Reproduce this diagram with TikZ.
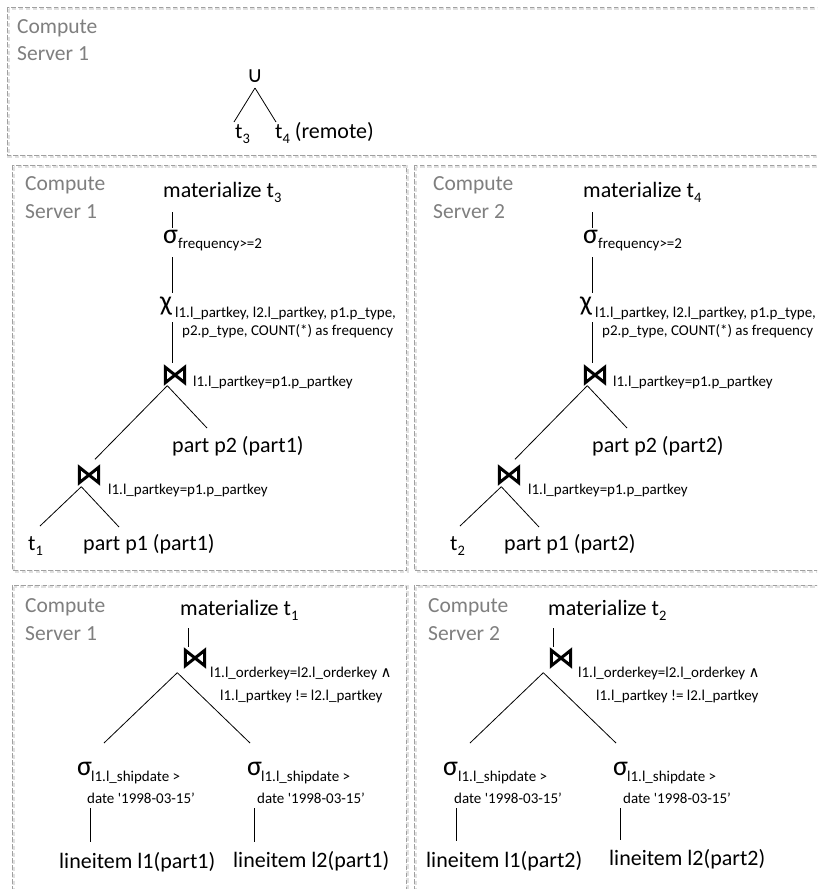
\documentclass[tikz,border=0pt]{standalone}
\usepackage{fontspec}
\setmainfont{Carlito}
\newfontfamily\dejavu{DejaVu Sans}
\newcommand\fs[1]{\fontsize{#1}{#1}\selectfont}
\newcommand\sbs[1]{\raisebox{-0.25em}{\fs{14.5}#1}}
\definecolor{servergray}{HTML}{7F7F7F}
\definecolor{framegray}{HTML}{A0A0A0}
\tikzset{
  main/.style={font=\fs{22}, inner sep=0pt, anchor=base west},
  small/.style={font=\fs{15}, inner sep=0pt, anchor=base west},
  greek/.style={font=\fs{28}, inner sep=0pt, anchor=base west},
  server/.style={font=\fs{21.5}, text=servergray, inner sep=0pt, anchor=base west},
  conn/.style={draw=black, line width=0.8pt},
  bowtie/.style={minimum width=19pt, minimum height=15pt, inner sep=0pt,
    append after command={\pgfextra{\draw[line width=3pt, line join=miter]
      (\tikzlastnode.north west) -- (\tikzlastnode.south east) -- (\tikzlastnode.north east) -- (\tikzlastnode.south west) -- cycle;}}},
  frame/.style={draw=framegray, dash pattern=on 4.5pt off 2.5pt, line width=1pt},
  frameshadow/.style={draw=black!12, dash pattern=on 4.5pt off 2.5pt, line width=2.2pt},
}
\begin{document}
\begin{tikzpicture}[x=1pt, y=-1pt]
\useasboundingbox (0,0) rectangle (817,889);
\clip (0,0) rectangle (817,889);
\fill[white] (0,0) rectangle (817,889);

% ---------- top box ----------
\draw[frameshadow] (8.5,8.5) rectangle (841,156.5);
\draw[frame] (7,7) rectangle (840,155);
\node[server] (cs0a) at (17,33) {Compute};
\node[server] (cs0b) at (17,60) {Server 1};
\node[font=\dejavu\fs{22}, inner sep=0pt, anchor=base] (u0) at (255,82) {∪};
\node[main] (t3) at (235,138) {t\sbs{3}};
\node[main] (t4) at (275,138) {t\sbs{4} (remote)};
\draw[conn] ([shift={(0,6)}]u0.base) -- ([shift={(-1,-16)}]t3.base west);
\draw[conn] ([shift={(0,6)}]u0.base) -- ([shift={(1,-16)}]t4.base west);

% ---------- box A (middle left) ----------
\draw[frameshadow] (13.5,166.5) rectangle (407.5,571.5);
\draw[frame] (12,165) rectangle (406,570);
\node[server] (csAa) at (25,190) {Compute};
\node[server] (csAb) at (25,218) {Server 1};
\node[main] (mA) at (163,197) {materialize t\sbs{3}};
\node[greek] (sA) at (163,243) {σ};
\node[small] (sAs) at (178,248) {frequency>=2};
\node[greek] (xA) at (160,310) {χ};
\node[small] (xAs1) at (175,317) {l1.l\_partkey, l2.l\_partkey, p1.p\_type,};
\node[small] (xAs2) at (182,335) {p2.p\_type, COUNT(*) as frequency};
\node[bowtie] (jA) at (175,375) {};
\node[small] (jAs) at (193,386) {l1.l\_partkey=p1.p\_partkey};
\node[main] (pA2) at (172,452) {part p2 (part1)};
\node[bowtie] (kA) at (89,475) {};
\node[small] (kAs) at (108,494) {l1.l\_partkey=p1.p\_partkey};
\node[main] (tA) at (28,550) {t\sbs{1}};
\node[main] (pA1) at (83,550) {part p1 (part1)};
\draw[conn] ([shift={(9,15)}]mA.base west) -- ([shift={(9,-15)}]sA.base west);
\draw[conn] ([shift={(9,14)}]sA.base west) -- ([shift={(12,-17)}]xA.base west);
\draw[conn] ([shift={(12,12)}]xA.base west) -- ([shift={(-3,-4)}]jA.north);
\draw[conn] ([shift={(2,3)}]jA.south west) -- ([shift={(6,-8)}]kA.north);
\draw[conn] ([shift={(2,3)}]jA.south west) -- ([shift={(35,-24)}]pA2.base west);
\draw[conn] ([shift={(2,4)}]kA.south west) -- ([shift={(12,-24)}]tA.base west);
\draw[conn] ([shift={(2,4)}]kA.south west) -- ([shift={(36,-23)}]pA1.base west);

% ---------- box B (middle right) ----------
\begin{scope}[shift={(420,0)}]
\draw[frameshadow] (-4.5,166.5) rectangle (421,571.5);
\draw[frame] (-6,165) rectangle (420,570);
\node[server] (csBa) at (13,190) {Compute};
\node[server] (csBb) at (13,218) {Server 2};
\node[main] (mB) at (163,197) {materialize t\sbs{4}};
\node[greek] (sB) at (163,243) {σ};
\node[small] (sBs) at (178,248) {frequency>=2};
\node[greek] (xB) at (160,310) {χ};
\node[small] (xBs1) at (175,317) {l1.l\_partkey, l2.l\_partkey, p1.p\_type,};
\node[small] (xBs2) at (182,335) {p2.p\_type, COUNT(*) as frequency};
\node[bowtie] (jB) at (175,375) {};
\node[small] (jBs) at (193,386) {l1.l\_partkey=p1.p\_partkey};
\node[main] (pB2) at (172,452) {part p2 (part2)};
\node[bowtie] (kB) at (89,475) {};
\node[small] (kBs) at (108,494) {l1.l\_partkey=p1.p\_partkey};
\node[main] (tB) at (30,550) {t\sbs{2}};
\node[main] (pB1) at (84,550) {part p1 (part2)};
\draw[conn] ([shift={(9,15)}]mB.base west) -- ([shift={(9,-15)}]sB.base west);
\draw[conn] ([shift={(9,14)}]sB.base west) -- ([shift={(12,-17)}]xB.base west);
\draw[conn] ([shift={(12,12)}]xB.base west) -- ([shift={(-3,-4)}]jB.north);
\draw[conn] ([shift={(2,3)}]jB.south west) -- ([shift={(6,-8)}]kB.north);
\draw[conn] ([shift={(2,3)}]jB.south west) -- ([shift={(35,-24)}]pB2.base west);
\draw[conn] ([shift={(2,4)}]kB.south west) -- ([shift={(10,-24)}]tB.base west);
\draw[conn] ([shift={(2,4)}]kB.south west) -- ([shift={(35,-23)}]pB1.base west);
\end{scope}

% ---------- box C (bottom left) ----------
\draw[frameshadow] (13.5,586.5) rectangle (407.5,905);
\draw[frame] (12,585) rectangle (406,905);
\node[server] (csCa) at (25,612) {Compute};
\node[server] (csCb) at (25,640) {Server 1};
\node[main] (mC) at (180,615) {materialize t\sbs{1}};
\node[bowtie] (jC) at (195,658) {};
\node[small] (jCs1) at (210,677) {l1.l\_orderkey=l2.l\_orderkey {\dejavu\fs{15}∧}};
\node[small] (jCs2) at (220,700) {l1.l\_partkey != l2.l\_partkey};
\node[greek] (sCL) at (77,775) {σ};
\node[small] (sCLa) at (91,781) {l1.l\_shipdate >};
\node[small] (sCLb) at (87,803) {date \textquotesingle1998-03-15’};
\node[greek] (sCR) at (247,775) {σ};
\node[small] (sCRa) at (261,781) {l1.l\_shipdate >};
\node[small] (sCRb) at (257,803) {date \textquotesingle1998-03-15’};
\node[main] (lC1) at (59,868) {lineitem l1(part1)};
\node[main] (lC2) at (233,867) {lineitem l2(part1)};
\draw[conn] ([shift={(8,13)}]mC.base west) -- ([shift={(-7,-3)}]jC.north);
\draw[conn] ([shift={(-8,7)}]jC.south west) -- ([shift={(27,-32)}]sCL.base west);
\draw[conn] ([shift={(-8,7)}]jC.south west) -- ([shift={(3,-32)}]sCR.base west);
\draw[conn] ([shift={(13,33)}]sCL.base west) -- ([shift={(31,-26)}]lC1.base west);
\draw[conn] ([shift={(7,33)}]sCR.base west) -- ([shift={(21,-25)}]lC2.base west);

% ---------- box D (bottom right) ----------
\begin{scope}[shift={(366,0)}]
\draw[frameshadow] (49.5,586.5) rectangle (480,905);
\draw[frame] (48,585) rectangle (480,905);
\node[server] (csDa) at (62,612) {Compute};
\node[server] (csDb) at (62,640) {Server 2};
\node[main] (mD) at (182,615) {materialize t\sbs{2}};
\node[bowtie] (jD) at (195,658) {};
\node[small] (jDs1) at (212,677) {l1.l\_orderkey=l2.l\_orderkey {\dejavu\fs{15}∧}};
\node[small] (jDs2) at (230,700) {l1.l\_partkey != l2.l\_partkey};
\node[greek] (sDL) at (77,775) {σ};
\node[small] (sDLa) at (92,781) {l1.l\_shipdate >};
\node[small] (sDLb) at (88,803) {date \textquotesingle1998-03-15’};
\node[greek] (sDR) at (247,775) {σ};
\node[small] (sDRa) at (261,781) {l1.l\_shipdate >};
\node[small] (sDRb) at (257,803) {date \textquotesingle1998-03-15’};
\node[main] (lD1) at (60,867) {lineitem l1(part2)};
\node[main] (lD2) at (243,865) {lineitem l2(part2)};
\draw[conn] ([shift={(5,13)}]mD.base west) -- ([shift={(-8,-3)}]jD.north);
\draw[conn] ([shift={(-8,7)}]jD.south west) -- ([shift={(27,-32)}]sDL.base west);
\draw[conn] ([shift={(-8,7)}]jD.south west) -- ([shift={(3,-32)}]sDR.base west);
\draw[conn] ([shift={(13,33)}]sDL.base west) -- ([shift={(30,-26)}]lD1.base west);
\draw[conn] ([shift={(7,33)}]sDR.base west) -- ([shift={(11,-25)}]lD2.base west);
\end{scope}
\end{tikzpicture}
\end{document}
